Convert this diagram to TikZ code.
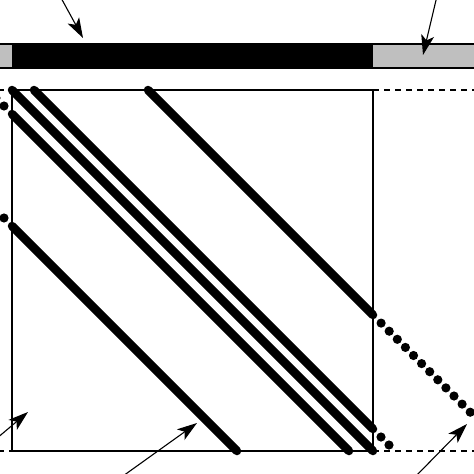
\documentclass[tikz,border=0pt]{standalone}
\usetikzlibrary{arrows.meta}
\definecolor{bargray}{gray}{0.75}
\tikzset{
  band/.style={line width=8.5pt, line cap=round},
  edge/.style={dash pattern=on 6pt off 5pt, line width=1.1pt},
  pointer/.style={-{Stealth[length=20pt,width=13pt,inset=5pt]}, line width=1.1pt}
}
\newcommand{\banddots}[4]{% start x, start y, step, count
  \foreach \i in {1,...,#4} \fill ({#1+#3*\i},{#2+#3*\i}) circle (4.6pt);}
\begin{document}
\begin{tikzpicture}[x=1pt,y=-1pt, line join=round]
	\useasboundingbox (0,0) rectangle (474,474);
	% storage bar
	\fill[bargray] (-2,44) rectangle (12,68);
	\fill[black] (12,44) rectangle (373,68);
	\fill[bargray] (373,44) rectangle (476,68);
	\draw[line width=1.5pt] (-2,44) -- (476,44) (-2,68) -- (476,68);
	% matrix
	\draw[line width=2pt] (12,90) rectangle (373,451);
	\draw[edge] (-2,90) -- (12,90) (373,90) -- (476,90);
	\draw[edge] (-2,451) -- (12,451) (373,451) -- (476,451);
	\draw[band] (148,90) -- (373,315);
	\draw[band] (12,90) -- (373,451);
	\draw[band] (34,90) -- (373,429);
	\draw[band] (12,114) -- (349,451);
	\draw[band] (12,226) -- (237,451);
	\banddots{373}{315}{8.1}{12}
	\banddots{373}{429}{8}{2}
	\banddots{12}{114}{-8}{2}
	\banddots{12}{226}{-8}{1}
	% pointers
	\coordinate (t1) at (60,-4);  \coordinate (h1) at (83,38);
	\coordinate (t2) at (437,-4); \coordinate (h2) at (423,55);
	\coordinate (t3) at (-4,439); \coordinate (h3) at (28,412);
	\coordinate (t4) at (123,476); \coordinate (h4) at (197,423);
	\coordinate (t5) at (416,476); \coordinate (h5) at (467,424);
	\foreach \n in {1,...,5} \draw[pointer] (t\n) -- (h\n);
\end{tikzpicture}
\end{document}
